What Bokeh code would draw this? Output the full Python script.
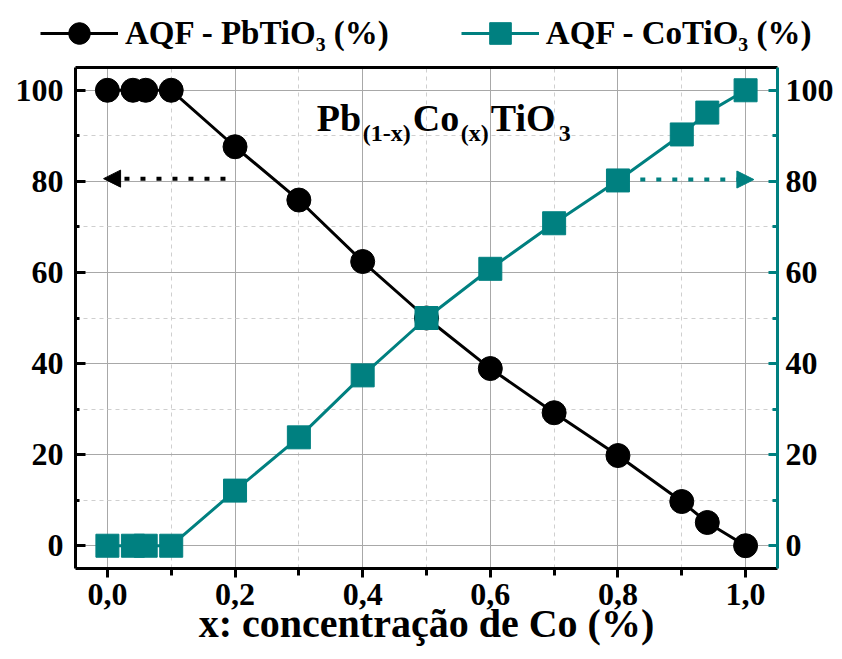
from bokeh.plotting import figure
from bokeh.layouts import column
from bokeh.models import (LinearAxis, FixedTicker, CustomJSTickFormatter, Legend, LegendItem,
                          Label, Arrow, NormalHead, Range1d)
from bokeh.embed import file_html
from bokeh.resources import INLINE

# ---------------- data ----------------
X_CO = [0.0, 0.04, 0.06, 0.1, 0.2, 0.3, 0.4, 0.5, 0.6, 0.7, 0.8, 0.9, 0.94, 1.0]
AQF_PBTIO3 = [100, 100, 100, 100, 87.6, 75.9, 62.4, 50.0, 38.9, 29.2, 19.8, 9.7, 5.1, 0]
AQF_COTIO3 = [0, 0, 0, 0, 12.1, 23.8, 37.4, 50.0, 60.8, 70.8, 80.2, 90.3, 95.1, 100]
SERIES_NAMES = ["AQF - PbTiO\u2083 (%)", "AQF - CoTiO\u2083 (%)"]
X_TICKS = [0.0, 0.2, 0.4, 0.6, 0.8, 1.0]
X_TICK_LABELS = ["0,0", "0,2", "0,4", "0,6", "0,8", "1,0"]
X_MINOR = [0.1, 0.3, 0.5, 0.7, 0.9]
Y_TICKS = [0, 20, 40, 60, 80, 100]
Y_MINOR = [10, 30, 50, 70, 90]
X_LABEL = "x: concentração de Co (%)"
# arrows: (x_start, x_end, y)
ARROW_LEFT = (0.185, -0.006, 80.6)
ARROW_RIGHT = (0.835, 1.013, 80.4)
# formula pieces: (text, is_subscript)
FORMULA = [("Pb", False), ("(1-x)", True), ("Co", False), ("(x)", True), ("TiO", False), ("3", True)]

TEAL = "#008080"
FONT = "Liberation Serif"

# ---------------- legend strip (series drawn off-view, only legend visible) ----------------
pl = figure(width=842, height=62, x_range=Range1d(-3, -2), y_range=Range1d(-3, -2),
            x_axis_location=None, y_axis_location=None, output_backend="svg",
            toolbar_location=None, min_border=0, border_fill_color="white",
            background_fill_color="white")
pl.frame_align = False
pl.outline_line_color = None
pl.grid.visible = False
dl1 = pl.line(X_CO, AQF_PBTIO3, line_color="black", line_width=3)
ds1 = pl.scatter(X_CO, AQF_PBTIO3, marker="circle", size=24, fill_color="black", line_color="black")
dl2 = pl.line(X_CO, AQF_COTIO3, line_color=TEAL, line_width=3)
ds2 = pl.scatter(X_CO, AQF_COTIO3, marker="square", size=23, fill_color=TEAL, line_color=TEAL)
legend = Legend(items=[LegendItem(label=SERIES_NAMES[0], renderers=[dl1, ds1]),
                       LegendItem(label=SERIES_NAMES[1], renderers=[dl2, ds2])],
                orientation="horizontal", location=(40, 2),
                border_line_color=None, background_fill_alpha=0,
                glyph_width=78, glyph_height=54, label_standoff=7, spacing=72,
                padding=0, margin=0, label_text_color="black",
                label_text_font=FONT, label_text_font_style="bold", label_text_font_size="33px")
pl.add_layout(legend)

# ---------------- main chart ----------------
p = figure(width=842, height=597, x_range=Range1d(-0.05, 1.05), y_range=Range1d(-5, 105),
           output_backend="svg", toolbar_location=None,
           min_border_left=75, min_border_right=65, min_border_top=5, min_border_bottom=91,
           background_fill_color="white", border_fill_color="white")
p.frame_align = False
p.outline_line_color = None

xt = FixedTicker(ticks=X_TICKS, minor_ticks=X_MINOR)
yt = FixedTicker(ticks=Y_TICKS, minor_ticks=Y_MINOR)

fmt = CustomJSTickFormatter(args=dict(tv=X_TICKS, tl=X_TICK_LABELS), code="""
let b = 0;
for (let i = 0; i < tv.length; i++) { if (Math.abs(tv[i] - tick) < Math.abs(tv[b] - tick)) b = i; }
return tl[b];
""")

def style_axis(ax, color="black"):
    ax.axis_line_color = color
    ax.axis_line_width = 3
    ax.major_tick_line_color = color
    ax.minor_tick_line_color = color
    ax.major_tick_line_width = 3
    ax.minor_tick_line_width = 3
    ax.major_label_text_font = FONT
    ax.major_label_text_font_style = "bold"
    ax.major_label_text_font_size = "32px"
    ax.major_label_text_color = "black"

xa = p.xaxis[0]
xa.ticker = xt
xa.formatter = fmt
style_axis(xa)
xa.major_tick_in = 0
xa.major_tick_out = 9
xa.minor_tick_in = 0
xa.minor_tick_out = 7
xa.major_label_standoff = 6
xa.axis_label = X_LABEL
xa.axis_label_text_font = FONT
xa.axis_label_text_font_style = "bold"
xa.axis_label_text_font_size = "40px"
xa.axis_label_text_color = "black"
xa.axis_label_standoff = -7

ya = p.yaxis[0]
ya.ticker = yt
style_axis(ya)
ya.major_tick_in = 10
ya.major_tick_out = 0
ya.minor_tick_in = 4
ya.minor_tick_out = 0
ya.major_label_standoff = 12

yr = LinearAxis(ticker=yt)
style_axis(yr, TEAL)
yr.major_tick_in = 9
yr.major_tick_out = 0
yr.minor_tick_in = 5
yr.minor_tick_out = 0
yr.major_label_standoff = 8
p.add_layout(yr, "right")

xtop = LinearAxis(ticker=FixedTicker(ticks=X_TICKS),
                  formatter=CustomJSTickFormatter(code="return '';"))
xtop.axis_line_color = "black"
xtop.axis_line_width = 3
xtop.major_tick_in = 0
xtop.major_tick_out = 0
xtop.minor_tick_in = 0
xtop.minor_tick_out = 0
xtop.major_label_standoff = 0
p.add_layout(xtop, "above")

for g, t in ((p.xgrid[0], xt), (p.ygrid[0], yt)):
    g.ticker = t
    g.grid_line_color = "#a8a8a8"
    g.grid_line_width = 1
    g.minor_grid_line_color = "#cfcfcf"
    g.minor_grid_line_width = 1
    g.minor_grid_line_dash = "4 4"

p.line(X_CO, AQF_PBTIO3, line_color="black", line_width=3)
p.scatter(X_CO, AQF_PBTIO3, marker="circle", size=24, fill_color="black", line_color="black")
p.line(X_CO, AQF_COTIO3, line_color=TEAL, line_width=3)
p.scatter(X_CO, AQF_COTIO3, marker="square", size=23, fill_color=TEAL, line_color=TEAL)

# arrows
p.add_layout(Arrow(end=NormalHead(size=17, fill_color="black", line_color="black", line_width=1),
                   x_start=ARROW_LEFT[0], x_end=ARROW_LEFT[1], y_start=ARROW_LEFT[2], y_end=ARROW_LEFT[2],
                   line_color="black", line_width=4, line_dash="5 11"))
p.add_layout(Arrow(end=NormalHead(size=17, fill_color=TEAL, line_color=TEAL, line_width=1),
                   x_start=ARROW_RIGHT[0], x_end=ARROW_RIGHT[1], y_start=ARROW_RIGHT[2], y_end=ARROW_RIGHT[2],
                   line_color=TEAL, line_width=4, line_dash="5 11"))

# formula label
fx, fy = 0.328, 93.85
offs = [0, 46, 96, 144, 174, 242]
for (txt, sub), dx in zip(FORMULA, offs):
    p.add_layout(Label(x=fx, y=fy, x_offset=dx, y_offset=-15 if sub else 0, text=txt,
                       text_font=FONT, text_font_style="bold",
                       text_font_size="24px" if sub else "38px",
                       text_baseline="alphabetic", text_align="left", text_color="black"))

layout = column(pl, p, spacing=0)
open("out.html", "w").write(file_html(layout, INLINE))
